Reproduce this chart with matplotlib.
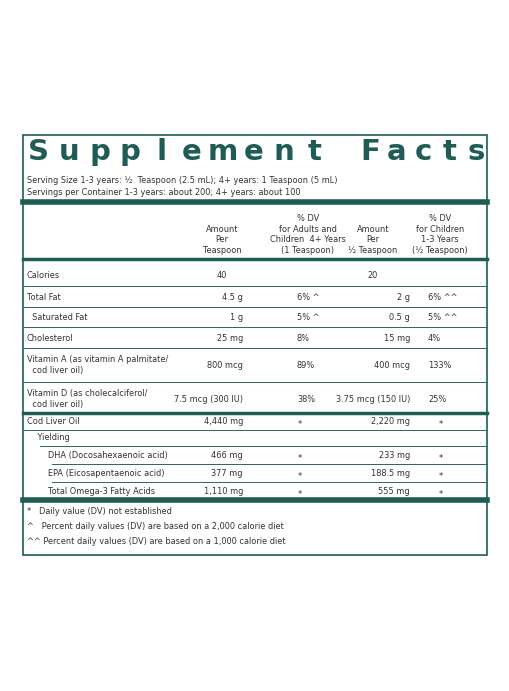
import matplotlib as mpl
mpl.use('Agg')
import matplotlib.pyplot as plt
import numpy as np

plt.rcParams['font.family'] = ['DejaVu Sans']
plt.rcParams['font.stretch'] = 'condensed'

teal = '#1f5c55'
ink = '#333333'
fs = 6.6

title_words = ['Supplement', 'Facts']
serving_lines = ['Serving Size 1-3 years: ½  Teaspoon (2.5 mL); 4+ years: 1 Teaspoon (5 mL)',
                 'Servings per Container 1-3 years: about 200; 4+ years: about 100']
col_headers = ['Amount\nPer\nTeaspoon',
               '% DV\nfor Adults and\nChildren  4+ Years\n(1 Teaspoon)',
               'Amount\nPer\n½ Teaspoon',
               '% DV\nfor Children\n1-3 Years\n(½ Teaspoon)']
names = ['Calories', 'Total Fat', '  Saturated Fat', 'Cholesterol',
         'Vitamin A (as vitamin A palmitate/\n  cod liver oil)',
         'Vitamin D (as cholecalciferol/\n  cod liver oil)',
         'Cod Liver Oil', '    Yielding', '        DHA (Docosahexaenoic acid)',
         '        EPA (Eicosapentaenoic acid)', '        Total Omega-3 Fatty Acids']
amount_adult = ['40', '4.5 g', '1 g', '25 mg', '800 mcg', '7.5 mcg (300 IU)',
                '4,440 mg', '', '466 mg', '377 mg', '1,110 mg']
dv_adult = ['', '6% ^', '5% ^', '8%', '89%', '38%', '*', '', '*', '*', '*']
amount_child = ['20', '2 g', '0.5 g', '15 mg', '400 mcg', '3.75 mcg (150 IU)',
                '2,220 mg', '', '233 mg', '188.5 mg', '555 mg']
dv_child = ['', '6% ^^', '5% ^^', '4%', '133%', '25%', '*', '', '*', '*', '*']
footnotes = ['*   Daily value (DV) not established',
             '^   Percent daily values (DV) are based on a 2,000 calorie diet',
             '^^ Percent daily values (DV) are based on a 1,000 calorie diet']

# layout (pixels)
row_y = [275, 297, 317, 338, 365, 399, 421, 437, 455, 473, 491]
line_y = [286, 307, 327, 348, 382, 413, 430, 446, 464, 482, 500]
line_x0 = [23, 23, 23, 23, 23, None, 23, 40, 52, 52, None]
thick = {413}

fig = plt.figure(figsize=(5.1, 6.91), dpi=100)
ax = fig.add_axes([0, 0, 1, 1])
ax.set_xlim(0, 510)
ax.set_ylim(691, 0)
ax.axis('off')

ax.add_patch(plt.Rectangle((23, 135), 464, 420, fill=False, ec=teal, lw=1.2))
for word, (x0, x1) in zip(title_words, [(38, 315), (370, 476)]):
    for ch, x in zip(word, np.linspace(x0, x1, len(word))):
        ax.text(x, 152, ch, fontsize=21, fontweight='bold', color=teal,
                ha='center', va='center', fontstretch='normal')
for i, s in enumerate(serving_lines):
    ax.text(27, 180 + 12 * i, s, fontsize=fs, color=ink, va='center')
ax.plot([23, 487], [202, 202], color=teal, lw=4)
for x, h in zip([222, 308, 373, 440], col_headers):
    ax.text(x, 255, h, fontsize=fs, color=ink, ha='center', va='bottom',
            linespacing=1.25)
ax.plot([23, 487], [259, 259], color=teal, lw=2.5)

for i, y in enumerate(row_y):
    ax.text(27, y, names[i], fontsize=fs, color=ink, va='center', linespacing=1.3)
    if i == 0:
        ax.text(222, y, amount_adult[i], fontsize=fs, color=ink, ha='center', va='center')
        ax.text(373, y, amount_child[i], fontsize=fs, color=ink, ha='center', va='center')
    else:
        ax.text(243, y, amount_adult[i], fontsize=fs, color=ink, ha='right', va='center')
        ax.text(410, y, amount_child[i], fontsize=fs, color=ink, ha='right', va='center')
    if dv_adult[i] == '*':
        ax.text(300, y + 3, '*', fontsize=fs, color=ink, ha='center', va='center')
        ax.text(441, y + 3, '*', fontsize=fs, color=ink, ha='center', va='center')
    else:
        ax.text(297, y, dv_adult[i], fontsize=fs, color=ink, va='center')
        ax.text(428, y, dv_child[i], fontsize=fs, color=ink, va='center')
    ly = line_y[i]
    if ly in thick:
        ax.plot([23, 487], [ly, ly], color=teal, lw=2.5)
    elif i == len(row_y) - 1:
        ax.plot([23, 487], [ly, ly], color=teal, lw=4)
    else:
        ax.plot([line_x0[i], 487], [ly, ly], color='#2a6660', lw=0.7)

for i, s in enumerate(footnotes):
    ax.text(27, 512 + 14.5 * i, s, fontsize=fs, color=ink, va='center')

fig.savefig('out.png', dpi=100, facecolor='white')
